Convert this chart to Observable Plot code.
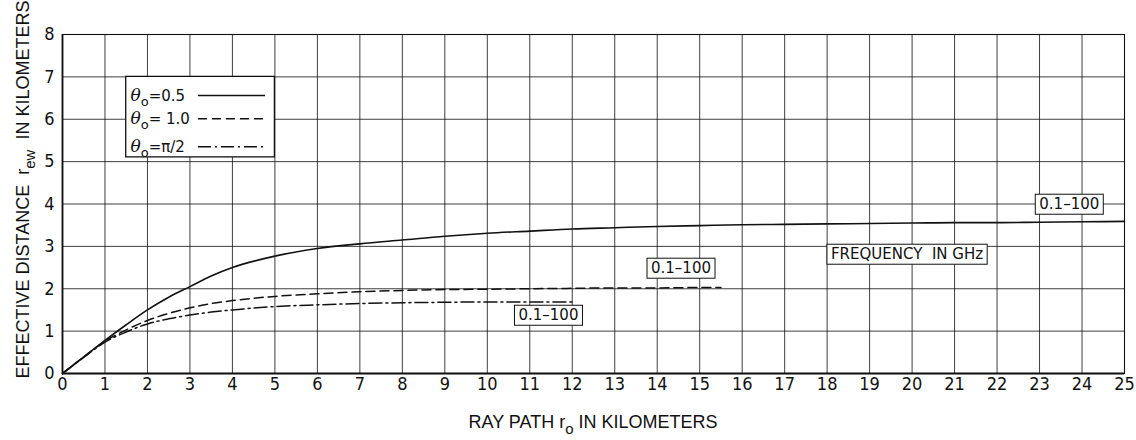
<!DOCTYPE html>
<html><head><meta charset="utf-8">
<script src="https://cdn.jsdelivr.net/npm/d3@7"></script>
<script src="https://cdn.jsdelivr.net/npm/@observablehq/plot@0.6"></script>
<style>body{margin:0;background:#fff}</style>
</head><body><div id="chart"></div>
<script>
// ---- data ----
const xTicks = d3.range(0, 26);
const yTicks = d3.range(0, 9);

const solidX = [0,0.5,1,1.5,2,2.5,3,3.5,4,5,6,7,8,9,10,11,12,13,14,15,16,17,18,19,20,21,22,23,24,25];
const solidY = [0,0.39,0.78,1.15,1.5,1.8,2.05,2.3,2.5,2.77,2.95,3.06,3.15,3.24,3.31,3.36,3.41,3.44,3.47,3.49,3.51,3.52,3.53,3.54,3.55,3.56,3.56,3.57,3.58,3.59];

const dashX = [0,0.5,1,1.5,2,2.5,3,3.5,4,5,6,7,8,9,10,11,12,13,14,15,15.5];
const dashY = [0,0.39,0.76,1.03,1.25,1.42,1.55,1.65,1.72,1.82,1.88,1.93,1.96,1.98,1.99,2.0,2.01,2.02,2.02,2.03,2.03];

const ddX = [0,0.5,1,1.5,2,2.5,3,3.5,4,5,6,7,8,9,10,11,12];
const ddY = [0,0.38,0.74,0.98,1.17,1.29,1.38,1.45,1.5,1.58,1.62,1.65,1.67,1.68,1.69,1.69,1.69];

const legendSymbol = "θ";
const legendSub = "o";
const legendValues = ["=0.5", "= 1.0", "=π/2"];
const legendRowY = [6.56, 6.01, 5.35];

const annotText = ["0.1–100", "0.1–100", "0.1–100", "FREQUENCY  IN GHz"];
const annotX = [23.7, 14.56, 11.44, 19.88];
const annotY = [3.99, 2.48, 1.37, 2.81];

// ---- build tables ----
const toRows = (xs, ys) => xs.map((x, i) => ({x, y: ys[i]}));
const solid = toRows(solidX, solidY);
const dashed = toRows(dashX, dashY);
const dashdot = toRows(ddX, ddY);
const legend = legendValues.map((v, i) => ({text: legendSymbol + legendSub + v, value: v, y: legendRowY[i]}));
const annots = annotText.map((t, i) => ({text: t, x: annotX[i], y: annotY[i]}));

const ink = "#111";
const dashes = [null, "9,5", "13,4,2,4"];
const legendBox = {x1: 1.5, x2: 5.0, y1: 5.1, y2: 7.0};
const sampleX1 = 3.2, sampleX2 = 4.78, legendTextX = 1.6;

const plot = Plot.plot({
  width: 1136,
  height: 440,
  marginLeft: 62,
  marginRight: 12,
  marginTop: 34,
  marginBottom: 67,
  style: {fontFamily: "'Liberation Sans Narrow','DejaVu Sans Condensed','Liberation Sans',sans-serif", background: "#fff", color: ink},
  x: {domain: [0, 25], label: null},
  y: {domain: [0, 8], label: null},
  marks: [
    Plot.gridX(xTicks, {stroke: ink, strokeOpacity: 0.9, strokeWidth: 0.9}),
    Plot.gridY(yTicks, {stroke: ink, strokeOpacity: 0.9, strokeWidth: 0.9}),
    Plot.frame({stroke: ink, strokeWidth: 1.1}),
    Plot.ruleX([0], {stroke: ink, strokeWidth: 1.8}),
    Plot.ruleY([0], {stroke: ink, strokeWidth: 1.8}),
    Plot.axisX(xTicks, {tickSize: 0, tickPadding: 4, fontSize: 18, label: null}),
    Plot.axisY(yTicks, {tickSize: 0, tickPadding: 8, fontSize: 18, label: null}),
    Plot.line(solid, {x: "x", y: "y", curve: "monotone-x", stroke: ink, strokeWidth: 1.6}),
    Plot.line(dashed, {x: "x", y: "y", curve: "monotone-x", stroke: ink, strokeWidth: 1.5, strokeDasharray: dashes[1]}),
    Plot.line(dashdot, {x: "x", y: "y", curve: "monotone-x", stroke: ink, strokeWidth: 1.5, strokeDasharray: dashes[2]}),
    Plot.rect([legendBox], {x1: "x1", x2: "x2", y1: "y1", y2: "y2", fill: "white", stroke: ink, strokeWidth: 1.3}),
    Plot.text(legend, {x: () => legendTextX, y: "y", text: "text", textAnchor: "start", fontSize: 17, fontFamily: "'DejaVu Sans',sans-serif", fill: ink}),
    Plot.ruleY([legend[0]], {x1: () => sampleX1, x2: () => sampleX2, y: "y", stroke: ink, strokeWidth: 1.5}),
    Plot.ruleY([legend[1]], {x1: () => sampleX1, x2: () => sampleX2, y: "y", stroke: ink, strokeWidth: 1.5, strokeDasharray: dashes[1]}),
    Plot.ruleY([legend[2]], {x1: () => sampleX1, x2: () => sampleX2, y: "y", stroke: ink, strokeWidth: 1.5, strokeDasharray: dashes[2]}),
    Plot.text(annots, {x: "x", y: "y", text: "text", fontSize: 15, fontFamily: "'DejaVu Sans',sans-serif", fill: ink})
  ]
});
document.getElementById("chart").appendChild(plot);

const svg = d3.select(plot);
const NS = "http://www.w3.org/2000/svg";

// boxes behind annotation labels
const annotSet = new Set(annotText);
plot.querySelectorAll("text").forEach(t => {
  if (!annotSet.has(t.textContent)) return;
  const b = t.getBBox();
  const r = document.createElementNS(NS, "rect");
  r.setAttribute("x", b.x - 4); r.setAttribute("y", b.y - 1);
  r.setAttribute("width", b.width + 8); r.setAttribute("height", b.height + 2);
  r.setAttribute("fill", "white"); r.setAttribute("stroke", ink); r.setAttribute("stroke-width", "1");
  if (t.getAttribute("transform")) r.setAttribute("transform", t.getAttribute("transform"));
  t.parentNode.insertBefore(r, t);
});

// legend labels: theta with subscript o
const legendMap = new Map(legend.map(d => [d.text, d]));
plot.querySelectorAll("text").forEach(t => {
  const d = legendMap.get(t.textContent);
  if (!d) return;
  const sel = d3.select(t);
  sel.text(null);
  sel.append("tspan").attr("font-style", "italic").attr("font-family", "'DejaVu Serif',serif").text(legendSymbol);
  sel.append("tspan").attr("dy", 5).attr("font-size", 13).text(legendSub);
  sel.append("tspan").attr("dy", -5).attr("font-size", 15).text(d.value);
});

// axis titles with subscripts
const xs = plot.scale("x"), ys = plot.scale("y");
const xt = svg.append("text")
  .attr("x", (xs.range[0] + xs.range[1]) / 2).attr("y", 428)
  .attr("text-anchor", "middle").attr("font-size", 18)
  .attr("font-family", "'Liberation Sans',sans-serif").attr("fill", ink);
xt.append("tspan").text("RAY PATH r");
xt.append("tspan").attr("dy", 6).attr("font-size", 15).text("o");
xt.append("tspan").attr("dy", -6).text(" IN KILOMETERS");

const yt = svg.append("text")
  .attr("transform", `translate(29,${(ys.range[0] + ys.range[1]) / 2 - 14}) rotate(-90)`)
  .attr("text-anchor", "middle").attr("font-size", 18)
  .attr("font-family", "'Liberation Sans',sans-serif").attr("fill", ink);
yt.append("tspan").text("EFFECTIVE DISTANCE  r");
yt.append("tspan").attr("dy", 6).attr("font-size", 15).text("ew");
yt.append("tspan").attr("dy", -6).text("  IN KILOMETERS");
</script>
</body></html>
